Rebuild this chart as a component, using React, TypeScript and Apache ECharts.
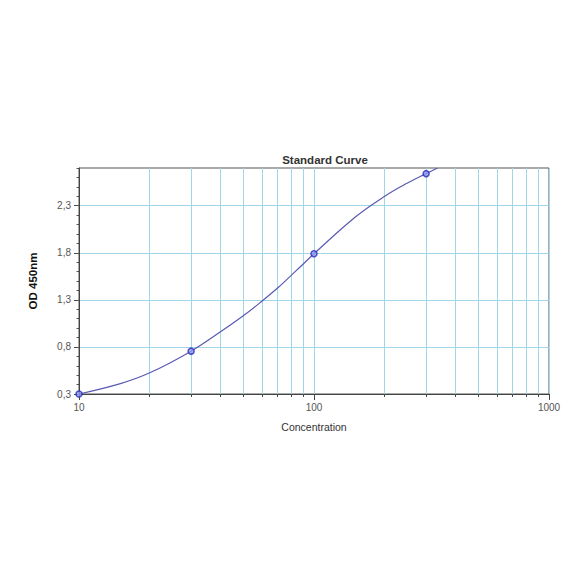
import React, { useEffect, useRef } from "react";
import * as echarts from "echarts";

const xMajor = [10, 100, 1000];
const xAllTicks = [10, 20, 30, 40, 50, 60, 70, 80, 90, 100, 200, 300, 400, 500, 600, 700, 800, 900, 1000];
const yLabels = [0.3, 0.8, 1.3, 1.8, 2.3];

const pointX = [10, 30, 100, 300];
const pointY = [0.3, 0.755, 1.79, 2.64];

const curveX = [10, 15, 20, 30, 40, 50, 60, 70, 80, 90, 100, 150, 200, 250, 300, 336];
const curveY = [0.3, 0.41, 0.525, 0.755, 0.96, 1.13, 1.285, 1.425, 1.56, 1.68, 1.79, 2.18, 2.4, 2.54, 2.64, 2.7];

const gridBlue = "#9fd6e8";
const font = "Liberation Sans, Arial, sans-serif";

export default function App() {
  const ref = useRef<HTMLDivElement>(null);
  useEffect(() => {
    if (!ref.current) return;
    const chart = echarts.init(ref.current, null, { renderer: "svg" });
    chart.setOption({
      animation: false,
      backgroundColor: "#ffffff",
      title: {
        text: "Standard Curve",
        left: 320,
        top: 149,
        textAlign: "center",
        textStyle: { fontFamily: font, fontSize: 11.5, fontWeight: "bold", color: "#333" },
      },
      grid: {
        left: 79,
        top: 168,
        right: 35,
        bottom: 190,
        show: true,
        borderColor: "#555",
        borderWidth: 1,
        backgroundColor: "transparent",
      },
      xAxis: [
        {
          type: "log",
          logBase: 10,
          min: 10,
          max: 1000,
          position: "bottom",
          name: "Concentration",
          nameLocation: "middle",
          nameGap: 27,
          nameTextStyle: { fontFamily: font, fontSize: 10.5, color: "#333" },
          axisLine: { show: true, lineStyle: { color: "#444", width: 1 } },
          axisTick: { show: true, customValues: xAllTicks, length: 3, lineStyle: { color: "#444" } },
          axisLabel: {
            customValues: xMajor,
            margin: 8,
            fontFamily: font,
            fontSize: 10,
            color: "#555",
            formatter: (v: number) => String(Math.round(v)),
          },
          splitLine: { show: true, lineStyle: { color: gridBlue, width: 1 } },
          minorTick: { show: false },
          minorSplitLine: { show: false },
        },
        {
          type: "log",
          logBase: 10,
          min: 10,
          max: 1000,
          position: "bottom",
          axisLine: { show: false },
          axisTick: { show: true, customValues: xMajor, length: 6, lineStyle: { color: "#444" } },
          axisLabel: { show: false },
          splitLine: { show: false },
        },
      ],
      yAxis: [
        {
          type: "value",
          min: 0.3,
          max: 2.7,
          interval: 0.5,
          position: "left",
          name: "OD 450nm",
          nameLocation: "middle",
          nameGap: 40,
          nameTextStyle: { fontFamily: font, fontSize: 11.5, fontWeight: "bold", color: "#111" },
          axisLine: { show: true, lineStyle: { color: "#444", width: 1 } },
          axisTick: { show: true, customValues: yLabels, length: 5, lineStyle: { color: "#444" } },
          axisLabel: {
            customValues: yLabels,
            margin: 8,
            fontFamily: font,
            fontSize: 10,
            color: "#555",
            formatter: (v: number) => v.toFixed(1).replace(".", ","),
          },
          splitLine: { show: true, lineStyle: { color: gridBlue, width: 1 } },
        },
        {
          type: "value",
          min: 0.3,
          max: 2.7,
          interval: 0.1,
          position: "left",
          axisLine: { show: false },
          axisTick: { show: true, length: 2.5, lineStyle: { color: "#555" } },
          axisLabel: { show: false },
          splitLine: { show: false },
        },
      ],
      series: [
        {
          type: "line",
          xAxisIndex: 0,
          yAxisIndex: 0,
          data: curveX.map((x, i) => [x, curveY[i]]),
          smooth: 0.4,
          showSymbol: false,
          symbol: "none",
          lineStyle: { color: "#5a5ab4", width: 1.2 },
          silent: true,
          z: 3,
        },
        {
          type: "scatter",
          xAxisIndex: 0,
          yAxisIndex: 0,
          data: pointX.map((x, i) => [x, pointY[i]]),
          symbol: "circle",
          symbolSize: 6,
          itemStyle: { color: "#8f9cf0", borderColor: "#2a2ab8", borderWidth: 1.5 },
          clip: false,
          z: 4,
        },
      ],
    });
    return () => chart.dispose();
  }, []);
  return (
    <div
      ref={ref}
      style={{ position: "fixed", left: 0, top: 0, width: 584, height: 584, background: "#fff" }}
    />
  );
}
